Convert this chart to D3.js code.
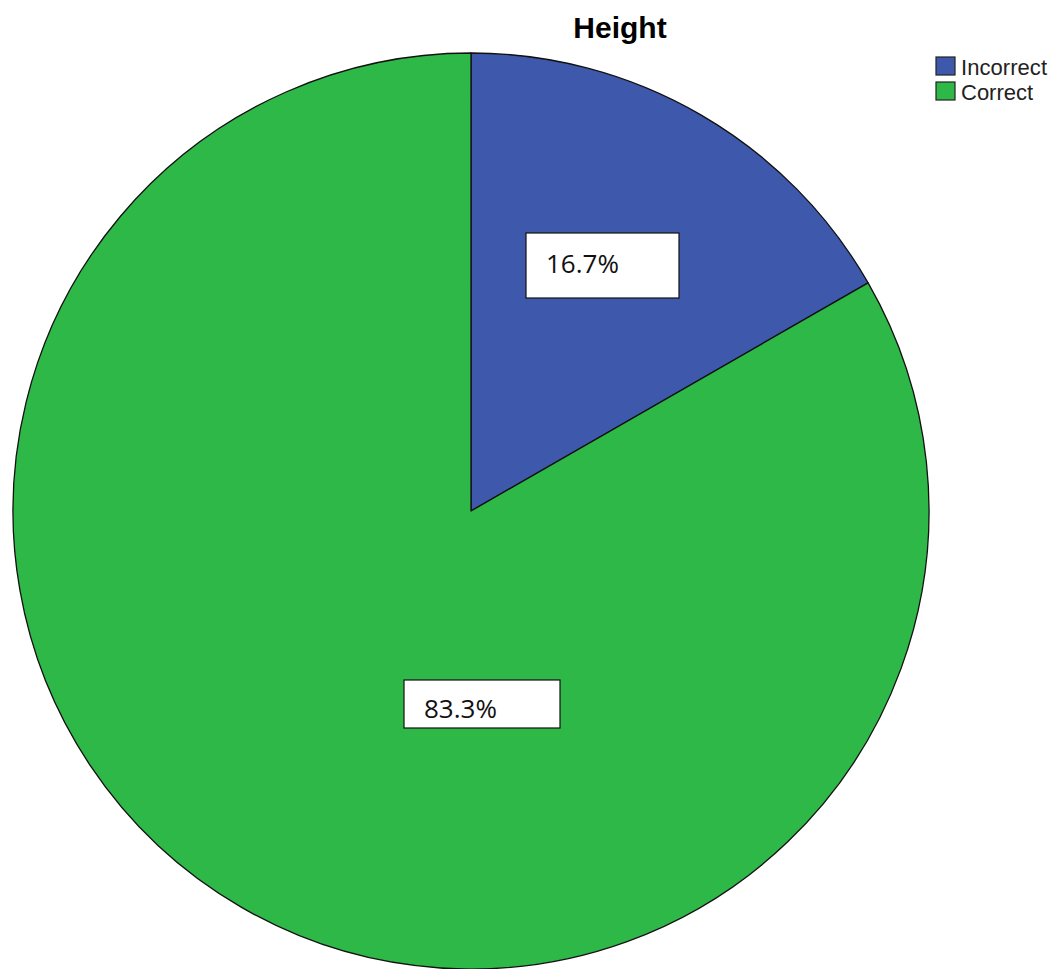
<!DOCTYPE html>
<html>
<head>
<meta charset="utf-8">
<script src="https://cdn.jsdelivr.net/npm/d3@7/dist/d3.min.js"></script>
<style>
  body { margin: 0; background: #fff; }
  svg { display: block; }
</style>
</head>
<body>
<div id="chart"></div>
<script>
// Data
const categories = ["Incorrect", "Correct"];
const values = [16.7, 83.3];
const labels = ["16.7%", "83.3%"];
const colors = ["#3E58AC", "#2EB848"];

const width = 1053, height = 969;
const cx = 471, cy = 511, radius = 458;

const svg = d3.select("#chart")
    .append("svg")
    .attr("width", width)
    .attr("height", height);

// Title
svg.append("text")
    .attr("x", 620)
    .attr("y", 38)
    .attr("text-anchor", "middle")
    .style("font-family", "'Liberation Sans', Arial, sans-serif")
    .style("font-weight", "bold")
    .style("font-size", "30px")
    .text("Height");

const pie = d3.pie().sort(null).value(d => d);
const arc = d3.arc().innerRadius(0).outerRadius(radius);

const g = svg.append("g").attr("transform", `translate(${cx},${cy})`);

const slices = pie(values);

g.selectAll("path.slice")
    .data(slices)
    .enter()
    .append("path")
    .attr("class", "slice")
    .attr("d", arc)
    .attr("fill", (d, i) => colors[i])
    .attr("stroke", "#111")
    .attr("stroke-width", 1.3)
    .attr("stroke-linejoin", "round");

// Label boxes (SPSS places them inside each slice, not at the centroid)
const boxes = [
    { dx: 55, dy: -278, w: 153, h: 65, tx: 20, ty: 40 },
    { dx: -67, dy: 169, w: 156, h: 48, tx: 20, ty: 38 }
];

const lab = g.selectAll("g.label")
    .data(slices)
    .enter()
    .append("g")
    .attr("class", "label")
    .attr("transform", (d, i) => `translate(${boxes[i].dx},${boxes[i].dy})`);

lab.append("rect")
    .attr("width", (d, i) => boxes[i].w)
    .attr("height", (d, i) => boxes[i].h)
    .attr("fill", "#fff")
    .attr("stroke", "#111")
    .attr("stroke-width", 1.2);

lab.append("text")
    .attr("x", (d, i) => boxes[i].tx)
    .attr("y", (d, i) => boxes[i].ty)
    .style("font-family", "'Open Sans', sans-serif")
    .style("font-size", "26px")
    .attr("fill", "#111")
    .text((d, i) => labels[i]);

// Legend
const legend = svg.append("g").attr("transform", "translate(936,57)");
const item = legend.selectAll("g")
    .data(categories)
    .enter()
    .append("g")
    .attr("transform", (d, i) => `translate(0,${i * 25})`);

item.append("rect")
    .attr("width", 19)
    .attr("height", 18)
    .attr("fill", (d, i) => colors[i])
    .attr("stroke", "#222")
    .attr("stroke-width", 1.2);

item.append("text")
    .attr("x", 25)
    .attr("y", 18)
    .style("font-family", "'Liberation Sans', Arial, sans-serif")
    .style("font-size", "22px")
    .attr("textLength", d => d === "Incorrect" ? 86 : null)
    .attr("fill", "#222")
    .text(d => d);
</script>
</body>
</html>
